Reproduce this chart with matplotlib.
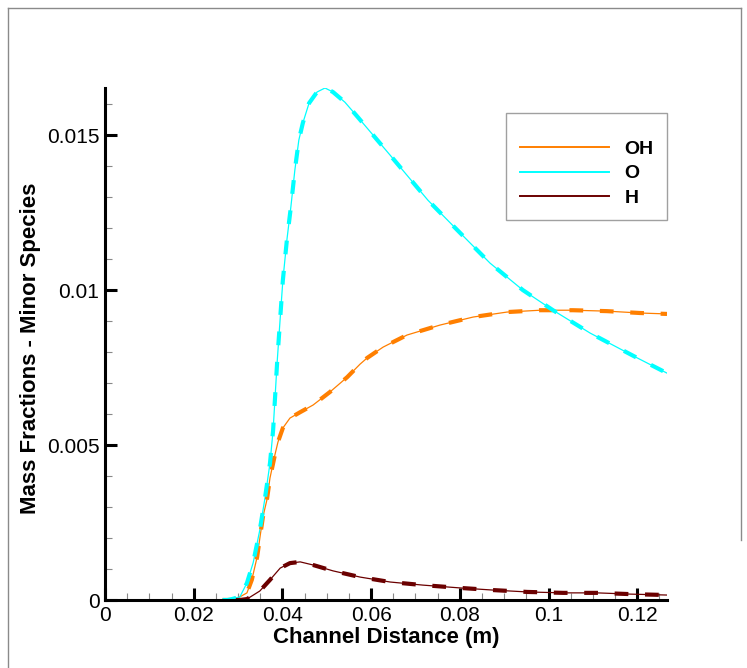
import matplotlib
matplotlib.use('Agg')
import matplotlib.pyplot as plt
from matplotlib.lines import Line2D

# values (channel distance in m, mass fraction)
x_oh = [0.0265, 0.0286, 0.0304, 0.0320, 0.0331, 0.0343, 0.0356, 0.0365, 0.0372, 0.0383, 0.0390,
        0.0401, 0.0417, 0.0440, 0.0469, 0.0507, 0.0546, 0.0575, 0.0591, 0.0627, 0.0681,
        0.0755, 0.0830, 0.0906, 0.0981, 0.1055, 0.1132, 0.1206, 0.1267]
y_oh = [0.0, 0.0, 0.0001, 0.00023, 0.00065, 0.00139, 0.00268, 0.00323, 0.00394, 0.00468, 0.00510,
        0.00555, 0.00587, 0.00606, 0.00629, 0.00671, 0.00719, 0.00761, 0.00781, 0.00816, 0.00855,
        0.00887, 0.00913, 0.00929, 0.00935, 0.00935, 0.00932, 0.00926, 0.00923]

x_o = [0.0265, 0.0276, 0.0286, 0.0304, 0.0320, 0.0334, 0.0349, 0.0361, 0.0372, 0.0379, 0.0388,
       0.0392, 0.0401, 0.0410, 0.0419, 0.0428, 0.0437, 0.0446, 0.0460, 0.0478, 0.0496,
       0.0514, 0.0541, 0.0570, 0.0643, 0.0728, 0.0794, 0.0868, 0.0942, 0.1010, 0.1094,
       0.1200, 0.1267]
y_o = [0.0, 0.0, 0.00003, 0.0001, 0.00055, 0.0012, 0.00226, 0.00332, 0.00442, 0.00548, 0.00765,
       0.00848, 0.01032, 0.01161, 0.01268, 0.01387, 0.01484, 0.01539, 0.01603, 0.01639, 0.01652,
       0.01639, 0.01606, 0.01558, 0.01435, 0.01290, 0.01194, 0.01087, 0.01000, 0.00935, 0.00861,
       0.00781, 0.00732]

x_h = [0.0295, 0.0304, 0.0320, 0.0349, 0.0372, 0.0395, 0.0417, 0.0440, 0.0469, 0.0514, 0.0575,
       0.0643, 0.0717, 0.0800, 0.0875, 0.0952, 0.1033, 0.1109, 0.1184, 0.1267]
y_h = [0.0, 0.0, 0.00003, 0.00029, 0.00065, 0.00103, 0.00119, 0.00123, 0.00113, 0.00094, 0.00074,
       0.00058, 0.00048, 0.00039, 0.00032, 0.00026, 0.00023, 0.00023, 0.00019, 0.00016]

species = ['OH', 'O', 'H']
colors = ['#ff7f00', '#00ffff', '#6b0000']
x_ticks = [0, 0.02, 0.04, 0.06, 0.08, 0.1, 0.12]
x_labels = ['0', '0.02', '0.04', '0.06', '0.08', '0.1', '0.12']
y_ticks = [0, 0.005, 0.01, 0.015]
y_labels = ['0', '0.005', '0.01', '0.015']

plt.rcParams['font.family'] = ['Liberation Sans', 'DejaVu Sans']

fig = plt.figure(figsize=(7.47, 6.68), dpi=100)
ax = fig.add_axes([105 / 747, 1 - 600 / 668, 562 / 747, 512 / 668])

handles = []
for xs, ys, c, name in zip((x_oh, x_o, x_h), (y_oh, y_o, y_h), colors, species):
    ln, = ax.plot(xs, ys, color=c, lw=0.9, label=name, zorder=2)
    ax.plot(xs, ys, color=c, lw=3.0, dashes=(3.3, 4.0), zorder=2.2)
    handles.append(ln)

ax.set_xlim(0, 0.1267)
ax.set_ylim(0, 0.01652)
ax.set_xticks(x_ticks, x_labels)
ax.set_yticks(y_ticks, y_labels)
ax.set_xticks([i * 0.005 for i in range(26)], minor=True)
ax.set_yticks([i * 0.001 for i in range(17)], minor=True)
ax.tick_params(which='major', direction='in', length=8.6, width=2.2, labelsize=15, pad=4, colors='black')
ax.tick_params(which='minor', direction='in', length=5, width=0.8, color='#888888')
for s in ('top', 'right'):
    ax.spines[s].set_visible(False)
for s in ('left', 'bottom'):
    ax.spines[s].set_linewidth(2.2)
    ax.spines[s].set_zorder(3)

fig.text(386 / 747, 1 - 637 / 668, 'Channel Distance (m)', ha='center', va='center',
         fontsize=16, fontweight='bold')
fig.text(31 / 747, 1 - 348 / 668, 'Mass Fractions - Minor Species', ha='center', va='center',
         rotation=90, fontsize=16, fontweight='bold')

leg = ax.legend(handles=handles, loc='upper left', bbox_to_anchor=((506 - 105) / 562, 1 - (113 - 88) / 512),
                frameon=True, fancybox=False, edgecolor='#888888', borderpad=0.7,
                handlelength=4.6, handletextpad=0.8, labelspacing=0.35, borderaxespad=0,
                title=' ', title_fontsize=5, prop={'weight': 'bold', 'size': 14})
leg.get_frame().set_linewidth(1.0)
for h in leg.legend_handles:
    h.set_linewidth(1.4)

# outer frame (left and top edges visible in the reference)
fig.add_artist(Line2D([8 / 747, 8 / 747], [0, 1 - 8 / 668], color='#8a8a8a', lw=1))
fig.add_artist(Line2D([8 / 747, 741 / 747], [1 - 8 / 668, 1 - 8 / 668], color='#8a8a8a', lw=1))
fig.add_artist(Line2D([741 / 747, 741 / 747], [1 - 8 / 668, 1 - 540 / 668], color='#8a8a8a', lw=1))

fig.savefig('out.png', dpi=100)
